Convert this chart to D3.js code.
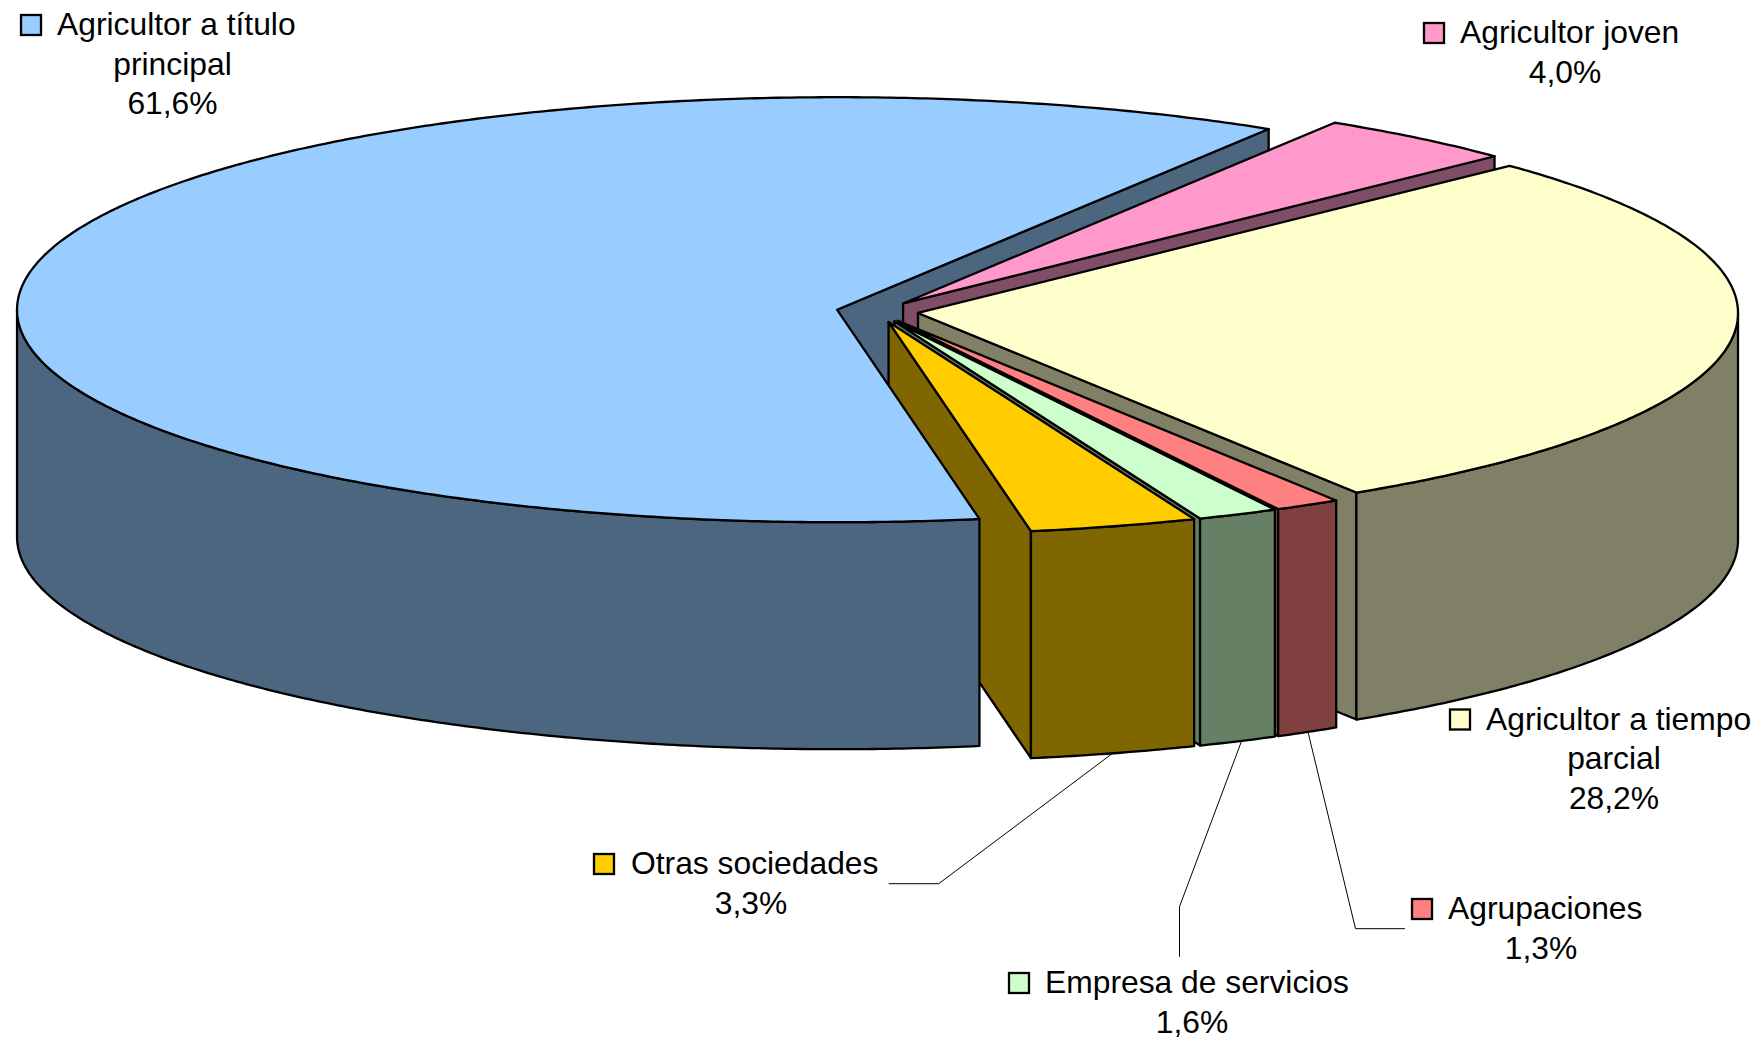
<!DOCTYPE html>
<html lang="es">
<head>
<meta charset="utf-8">
<title>Agricultores</title>
<script src="https://cdn.jsdelivr.net/npm/d3@7/dist/d3.min.js"></script>
<style>
html,body{margin:0;padding:0;background:#fff;overflow:hidden}
svg{display:block}
text{font-family:"Liberation Sans",Arial,sans-serif;font-size:31.8px;fill:#000}
</style>
</head>
<body>
<svg id="c" width="1760" height="1039" role="img" aria-label="Gráfico circular 3D de tipos de agricultor"></svg>
<script>
// --- data ---
const categories = ["Agricultor a título principal","Agricultor joven","Agricultor a tiempo parcial","Agrupaciones","Empresa de servicios","Otras sociedades"];
const values = [61.6,4.0,28.2,1.3,1.6,3.3];
const valueLabels = ["61,6%","4,0%","28,2%","1,3%","1,6%","3,3%"];
const topColors = ["#99CCFF","#FF99CC","#FFFFCC","#FF8080","#CCFFCC","#FFCC00"];
const sideColors = ["#4D6680","#804D66","#808066","#804040","#668066","#806600"];
const labelLines = [["Agricultor a título","principal"],["Agricultor joven"],["Agricultor a tiempo","parcial"],["Agrupaciones"],["Empresa de servicios"],["Otras sociedades"]];

// --- layout ---
const W=1760,H=1039;
const cx=877.3, cy=311.7, rx=820, ry=212.5, depth=227, explode=0.05;
const startDeg=170; // pie start angle, clockwise from 12 o'clock
const lineH=39.6;
// swatch left, first-line centre y, text left, centre x of following lines
const labelPos=[
 {sx:20,  sy:25,  tx:57,  cx:172.5},
 {sx:1423,sy:33,  tx:1460,cx:1565},
 {sx:1449,sy:719.5,tx:1486,cx:1614},
 {sx:1411,sy:909, tx:1448,cx:1541},
 {sx:1008,sy:983, tx:1045,cx:1192},
 {sx:593, sy:864, tx:631, cx:751}
];
const leaders=[null,null,null,
 [[1308,732],[1355.5,928.7],[1405,928.7]],
 [[1241.7,740.7],[1179.5,906.7],[1179.5,956.7]],
 [[1113,753],[938.7,883.7],[888.7,883.7]]
];

const svg=d3.select("#c");
const xS=d3.scaleLinear().domain([-1,1]).range([cx-rx,cx+rx]);
const yS=d3.scaleLinear().domain([-1,1]).range([cy-ry,cy+ry]);

const toRad=d=>d*Math.PI/180;
const pieGen=d3.pie().sort(null).startAngle(toRad(startDeg)).endAngle(toRad(startDeg+360));
const slices=pieGen(values).map((p,i)=>{
  const a0=p.startAngle-Math.PI/2, a1=p.endAngle-Math.PI/2, m=(a0+a1)/2;
  return {i,a0,a1,ox:Math.cos(m)*explode,oy:Math.sin(m)*explode};
});
const px=(s,a,r=1)=>xS(s.ox+r*Math.cos(a));
const py=(s,a,r=1)=>yS(s.oy+r*Math.sin(a));
const lineGen=d3.line();
const sample=(a,b)=>{const n=Math.max(2,Math.ceil(Math.abs(b-a)/toRad(0.5)));return d3.range(n+1).map(k=>a+(b-a)*k/n);};

const gMarks=svg.append("g").attr("stroke","#000").attr("stroke-width",2.3).attr("stroke-linejoin","round");
function draw(d,fill){gMarks.append("path").attr("d",d).attr("fill",fill);}

function drawTop(s){
  const pts=[[px(s,0,0),py(s,0,0)],...sample(s.a0,s.a1).map(a=>[px(s,a),py(s,a)])];
  draw(lineGen(pts)+"Z",topColors[s.i]);
}
function drawRadial(s,a){
  const ax=px(s,0,0),ay=py(s,0,0),bx=px(s,a),by=py(s,a);
  draw(lineGen([[ax,ay],[bx,by],[bx,by+depth],[ax,ay+depth]])+"Z",sideColors[s.i]);
}
function drawArc(s){
  // the outer wall shows only where the ellipse runs along its front half
  [0,2*Math.PI].forEach(k=>{
    const lo=Math.max(s.a0,k), hi=Math.min(s.a1,k+Math.PI);
    if(lo>=hi) return;
    const up=sample(lo,hi).map(t=>[px(s,t),py(s,t)]);
    const dn=up.slice().reverse().map(p=>[p[0],p[1]+depth]);
    draw(lineGen(up.concat(dn))+"Z",sideColors[s.i]);
  });
}
const [sBlue,sPink,sYellow,sRed,sGreen,sOrange]=slices;
drawRadial(sBlue,sBlue.a1);
drawRadial(sPink,sPink.a1); drawTop(sPink);
drawRadial(sYellow,sYellow.a1);
drawRadial(sRed,sRed.a1);
drawRadial(sGreen,sGreen.a1);
drawRadial(sOrange,sOrange.a1);
drawArc(sBlue); drawTop(sBlue);
drawArc(sYellow); drawTop(sYellow);
drawArc(sRed); drawTop(sRed);
drawArc(sGreen); drawTop(sGreen);
drawArc(sOrange); drawTop(sOrange);

// leader lines
svg.append("g").selectAll("path").data(leaders.filter(Boolean)).join("path")
  .attr("d",d=>lineGen(d)).attr("fill","none").attr("stroke","#000").attr("stroke-width",1);

// labels
const labelG=svg.append("g").selectAll("g").data(categories).join("g");
labelG.each(function(c,i){
  const g=d3.select(this), L=labelPos[i], lines=labelLines[i];
  g.append("rect").attr("x",L.sx+1).attr("y",L.sy-10).attr("width",20).attr("height",20)
   .attr("fill",topColors[i]).attr("stroke","#000").attr("stroke-width",2.3);
  const base=L.sy+10;
  g.append("text").attr("x",L.tx).attr("y",base).text(lines[0]);
  lines.slice(1).concat([valueLabels[i]]).forEach((t,k)=>{
    g.append("text").attr("x",L.cx).attr("y",base+lineH*(k+1)).attr("text-anchor","middle").text(t);
  });
});
</script>
</body>
</html>
